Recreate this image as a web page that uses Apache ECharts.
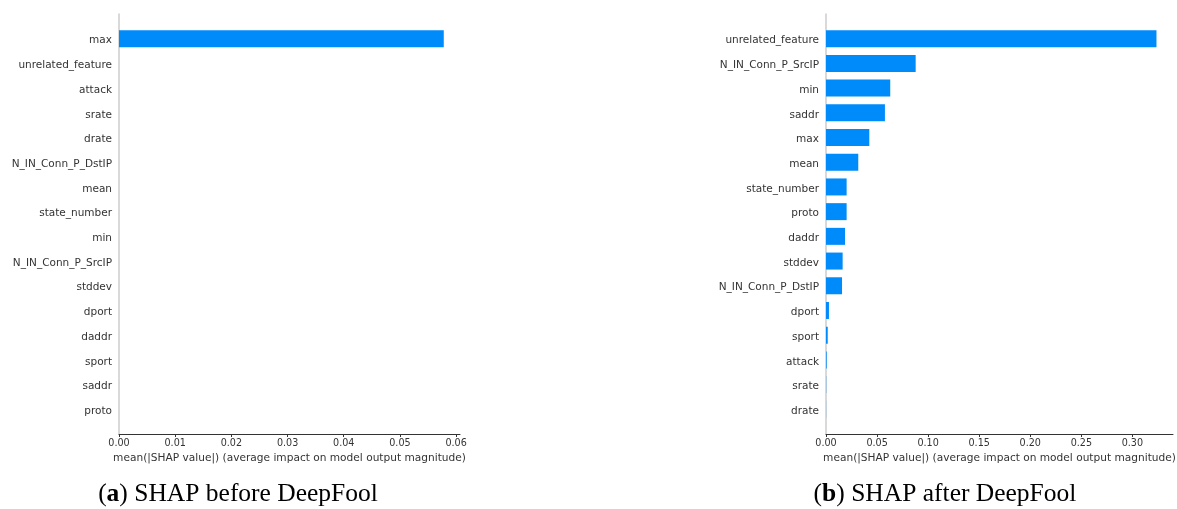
<!DOCTYPE html>
<html>
<head>
<meta charset="utf-8">
<script src="https://cdn.jsdelivr.net/npm/echarts@6/dist/echarts.min.js"></script>
<style>html,body{margin:0;padding:0;background:#fff}#c{width:1177px;height:509px}</style>
</head>
<body>
<div id="c"></div>
<script>
// Panel (a): SHAP before DeepFool
var featuresBefore = ['max','unrelated_feature','attack','srate','drate','N_IN_Conn_P_DstIP','mean','state_number','min','N_IN_Conn_P_SrcIP','stddev','dport','daddr','sport','saddr','proto'];
var valuesBefore = [0.0578,0,0,0,0,0,0,0,0,0,0,0,0,0,0,0];
var ticksBefore = [0,0.01,0.02,0.03,0.04,0.05,0.06];

// Panel (b): SHAP after DeepFool
var featuresAfter = ['unrelated_feature','N_IN_Conn_P_SrcIP','min','saddr','max','mean','state_number','proto','daddr','stddev','N_IN_Conn_P_DstIP','dport','sport','attack','srate','drate'];
var valuesAfter = [0.3236,0.0878,0.0629,0.0577,0.0424,0.0316,0.0202,0.0202,0.0186,0.0163,0.0157,0.0029,0.0017,0.0007,0.0002,0.0001];
var ticksAfter = [0,0.05,0.10,0.15,0.20,0.25,0.30];

var axisName = 'mean(|SHAP value|) (average impact on model output magnitude)';
var captionA = '({b|a}) SHAP before DeepFool';
var captionB = '({b|b}) SHAP after DeepFool';

var FONT = 'DejaVu Sans';
function pad(arr, v){ return [v].concat(arr, [v]); }

function xAxisFor(idx, maxVal, ticks){
  return {
    type:'value', gridIndex: idx, min:0, max: maxVal*1.05,
    axisLine:{show:true, lineStyle:{color:'#333', width:1}},
    axisTick:{show:true, length:3, lineStyle:{color:'#333'}, customValues: ticks},
    axisLabel:{color:'#333', fontFamily:FONT, fontSize:9.6, margin:4,
      customValues: ticks, formatter:function(v){return v.toFixed(2);}},
    splitLine:{show:false},
    name: axisName, nameLocation:'middle', nameGap:19,
    nameTextStyle:{color:'#333', fontFamily:FONT, fontSize:10.6}
  };
}
function yAxisFor(idx, cats){
  return {
    type:'category', gridIndex: idx, inverse:true, boundaryGap:false,
    data: pad(cats, ''),
    axisLine:{show:true, lineStyle:{color:'#cccccc', width:1.5}},
    axisTick:{show:false},
    axisLabel:{color:'#333', fontFamily:FONT, fontSize:10.5, margin:7, interval:0,
      formatter:function(v){ return v ? '{t|' + v + '}' : ''; },
      rich:{t:{color:'#333', fontFamily:FONT, fontSize:10.5, padding:[4,0,0,0]}}},
    splitLine:{show:false}
  };
}
function seriesFor(idx, vals){
  return {
    type:'bar', xAxisIndex: idx, yAxisIndex: idx,
    data: pad(vals, null), barWidth:17,
    itemStyle:{color:'#008bfb'}, silent:true, animation:false
  };
}

var chart = echarts.init(document.getElementById('c'), null, {renderer:'canvas'});
chart.setOption({
  animation:false,
  grid:[
    {left:119, top:14, width:341, height:420, outerBoundsMode:'none', containLabel:false},
    {left:826, top:14, width:347, height:420, outerBoundsMode:'none', containLabel:false}
  ],
  xAxis:[
    xAxisFor(0, Math.max.apply(null, valuesBefore), ticksBefore),
    xAxisFor(1, Math.max.apply(null, valuesAfter), ticksAfter)
  ],
  yAxis:[ yAxisFor(0, featuresBefore), yAxisFor(1, featuresAfter) ],
  series:[ seriesFor(0, valuesBefore), seriesFor(1, valuesAfter) ],
  graphic:[
    {type:'text', x:238, y:494, style:{text:captionA, align:'center', verticalAlign:'middle',
      fontFamily:'Liberation Serif', fontSize:25.5, fill:'#000',
      rich:{b:{fontFamily:'Liberation Serif', fontSize:25.5, fontWeight:'bold', fill:'#000'}}}},
    {type:'text', x:945, y:494, style:{text:captionB, align:'center', verticalAlign:'middle',
      fontFamily:'Liberation Serif', fontSize:25.5, fill:'#000',
      rich:{b:{fontFamily:'Liberation Serif', fontSize:25.5, fontWeight:'bold', fill:'#000'}}}}
  ]
});
</script>
</body>
</html>
